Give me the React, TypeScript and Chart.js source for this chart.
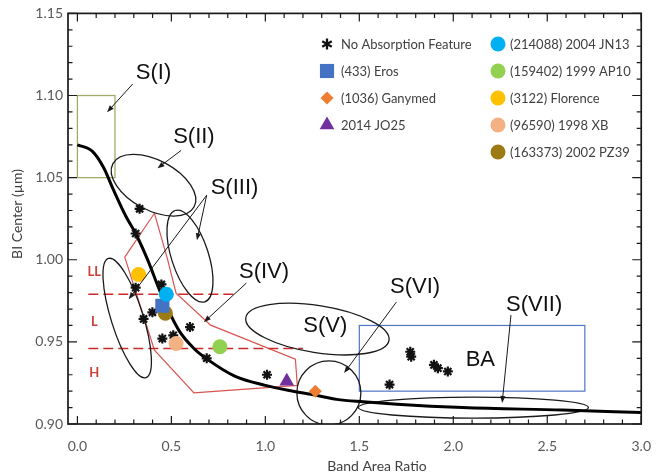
import { useEffect, useRef } from 'react';
import { Chart, registerables } from 'chart.js';

Chart.register(...registerables);

// Axis ticks
const xTicks = [0.0, 0.5, 1.0, 1.5, 2.0, 2.5, 3.0];
const yTicks = [0.9, 0.95, 1.0, 1.05, 1.1, 1.15];

// S-type boundary curve (Band Area Ratio vs BI Center)
const curveBAR = [0.0, 0.08, 0.14, 0.19, 0.26, 0.31, 0.37, 0.45, 0.54, 0.62, 0.69, 0.84, 1.0, 1.12, 1.27, 1.38, 1.52, 1.7, 2.05, 2.58, 3.0];
const curveBIC = [1.07, 1.066, 1.056, 1.043, 1.026, 1.016, 1.001, 0.978, 0.957, 0.946, 0.9395, 0.929, 0.9235, 0.9205, 0.9175, 0.915, 0.9135, 0.912, 0.91, 0.9085, 0.907];

// Asteroids without an absorption feature
const noFeatureBAR = [0.331, 0.31, 0.31, 0.447, 0.352, 0.399, 0.452, 0.51, 0.599, 0.688, 1.009, 1.771, 1.776, 1.897, 1.918, 1.971, 1.661];
const noFeatureBIC = [1.031, 1.016, 0.983, 0.985, 0.964, 0.968, 0.952, 0.954, 0.959, 0.94, 0.93, 0.944, 0.941, 0.936, 0.934, 0.932, 0.924];

// Named asteroids
const asteroidNames = ['(433) Eros', '(1036) Ganymed', '2014 JO25', '(214088) 2004 JN13', '(159402) 1999 AP10', '(3122) Florence', '(96590) 1998 XB', '(163373) 2002 PZ39'];
const asteroidBAR = [0.452, 1.266, 1.114, 0.473, 0.758, 0.326, 0.525, 0.468];
const asteroidBIC = [0.972, 0.92, 0.926, 0.979, 0.947, 0.991, 0.949, 0.9675];

const asteroidColors = ['#4472C4', '#ED7D31', '#7030A0', '#00B0F0', '#92D050', '#FFC000', '#F4B183', '#9C7A14'];
const asteroidShapes = ['rect', 'rectRot', 'triangle', 'circle', 'circle', 'circle', 'circle', 'circle'];
const asteroidRadius = [10, 6.5, 8.5, 7.5, 7.5, 7.5, 7.5, 7.5];
const drawOrder = [2, 1, 1, 1, 1, 1, 1, 3];

// Region outlines (data coordinates; radii in px, rotation in degrees)
const regionEllipses = [
  { cx: 0.405, cy: 1.0454, a: 46, b: 25, rot: 28 },
  { cx: 0.599, cy: 1.0022, a: 48, b: 18.5, rot: 72 },
  { cx: 0.265, cy: 0.9645, a: 62.5, b: 16, rot: 72.5 },
  { cx: 1.277, cy: 0.9578, a: 72.5, b: 23.5, rot: 9 },
  { cx: 1.338, cy: 0.9189, a: 32, b: 32, rot: 0 },
  { cx: 2.107, cy: 0.91, a: 115, b: 10.5, rot: 0 },
];
const sIVPolygonBAR = [0.252, 0.41, 0.478, 0.525, 0.709, 1.16, 1.17, 0.62, 0.41];
const sIVPolygonBIC = [1.0016, 1.0283, 1.001, 0.9797, 0.9602, 0.9395, 0.9235, 0.9189, 0.945];

const regionLabels = [
  { t: 'S(I)', x: 0.405, y: 1.114 },
  { t: 'S(II)', x: 0.62, y: 1.0746 },
  { t: 'S(III)', x: 0.836, y: 1.0436 },
  { t: 'S(IV)', x: 0.993, y: 0.9925 },
  { t: 'S(V)', x: 1.319, y: 0.9596 },
  { t: 'S(VI)', x: 1.797, y: 0.9833 },
  { t: 'S(VII)', x: 2.43, y: 0.9725 },
  { t: 'BA', x: 2.144, y: 0.939 },
];
const regionArrows = [
  [0.294, 1.107, 0.158, 1.0898],
  [0.552, 1.0666, 0.426, 1.0557],
  [0.688, 1.0393, 0.636, 1.0119],
  [0.688, 1.0393, 0.273, 0.976],
  [0.899, 0.9858, 0.673, 0.962],
  [1.697, 0.9742, 1.419, 0.931],
  [2.307, 0.9663, 2.26, 0.9128],
];
const bandLabels = [
  { t: 'LL', x: 0.09, y: 0.9925 },
  { t: 'L', x: 0.09, y: 0.962 },
  { t: 'H', x: 0.09, y: 0.931 },
];

const UI_FONT = 'Lato, "Open Sans", sans-serif';
const LABEL_FONT = '"Liberation Sans", Arial, sans-serif';

function drawMarker(ctx: CanvasRenderingContext2D, shape: string, x: number, y: number, r: number, color: string) {
  ctx.save();
  ctx.fillStyle = color;
  ctx.strokeStyle = color;
  ctx.beginPath();
  if (shape === 'circle') {
    ctx.arc(x, y, r, 0, Math.PI * 2);
    ctx.fill();
  } else if (shape === 'rect') {
    const s = Math.SQRT1_2 * r;
    ctx.fillRect(x - s, y - s, 2 * s, 2 * s);
  } else if (shape === 'rectRot') {
    ctx.moveTo(x, y - r);
    ctx.lineTo(x + r, y);
    ctx.lineTo(x, y + r);
    ctx.lineTo(x - r, y);
    ctx.closePath();
    ctx.fill();
  } else if (shape === 'triangle') {
    for (let k = 0; k < 3; k++) {
      const ang = (k * 2 * Math.PI) / 3;
      const px = x + Math.sin(ang) * r;
      const py = y - Math.cos(ang) * r;
      if (k === 0) ctx.moveTo(px, py);
      else ctx.lineTo(px, py);
    }
    ctx.closePath();
    ctx.fill();
  } else if (shape === 'star') {
    ctx.lineWidth = 2.3;
    for (let k = 0; k < 3; k++) {
      const ang = Math.PI / 2 + (k * Math.PI) / 3;
      ctx.moveTo(x - Math.cos(ang) * r, y - Math.sin(ang) * r);
      ctx.lineTo(x + Math.cos(ang) * r, y + Math.sin(ang) * r);
    }
    ctx.stroke();
  }
  ctx.restore();
}

function drawArrow(ctx: CanvasRenderingContext2D, x1: number, y1: number, x2: number, y2: number) {
  const ang = Math.atan2(y2 - y1, x2 - x1);
  const len = 7;
  const half = 2.6;
  ctx.beginPath();
  ctx.moveTo(x1, y1);
  ctx.lineTo(x2 - Math.cos(ang) * len * 0.8, y2 - Math.sin(ang) * len * 0.8);
  ctx.stroke();
  ctx.beginPath();
  ctx.moveTo(x2, y2);
  ctx.lineTo(x2 - Math.cos(ang) * len - Math.sin(ang) * half, y2 - Math.sin(ang) * len + Math.cos(ang) * half);
  ctx.lineTo(x2 - Math.cos(ang) * len + Math.sin(ang) * half, y2 - Math.sin(ang) * len - Math.cos(ang) * half);
  ctx.closePath();
  ctx.fill();
}

const figurePlugin = {
  id: 'figureRegions',
  beforeDatasetsDraw(chart: any) {
    const { ctx, chartArea, scales } = chart;
    const X = (v: number) => scales.x.getPixelForValue(v);
    const Y = (v: number) => scales.y.getPixelForValue(v);
    ctx.save();
    ctx.beginPath();
    ctx.rect(chartArea.left, chartArea.top, chartArea.right - chartArea.left, chartArea.bottom - chartArea.top);
    ctx.clip();

    // S(I) box
    ctx.strokeStyle = '#A3AB6B';
    ctx.lineWidth = 1.3;
    ctx.strokeRect(X(0), Y(1.1), X(0.2) - X(0), Y(1.05) - Y(1.1));

    // BA box
    ctx.strokeStyle = '#4F74C8';
    ctx.lineWidth = 1.2;
    ctx.strokeRect(X(1.5), Y(0.96), X(2.7) - X(1.5), Y(0.92) - Y(0.96));

    // S(IV) polygon
    ctx.strokeStyle = '#D9534F';
    ctx.lineWidth = 1.2;
    ctx.beginPath();
    sIVPolygonBAR.forEach((v, i) => {
      if (i === 0) ctx.moveTo(X(v), Y(sIVPolygonBIC[i]));
      else ctx.lineTo(X(v), Y(sIVPolygonBIC[i]));
    });
    ctx.closePath();
    ctx.stroke();

    // Band dividers
    ctx.strokeStyle = '#CC2B2B';
    ctx.lineWidth = 1.6;
    ctx.setLineDash([10, 5]);
    ctx.beginPath();
    ctx.moveTo(X(0.058), Y(0.979));
    ctx.lineTo(X(0.84), Y(0.979));
    ctx.moveTo(X(0.058), Y(0.946));
    ctx.lineTo(X(1.2), Y(0.946));
    ctx.stroke();
    ctx.setLineDash([]);

    // Ellipses
    ctx.strokeStyle = '#1a1a1a';
    ctx.lineWidth = 1.3;
    regionEllipses.forEach((e) => {
      ctx.beginPath();
      ctx.ellipse(X(e.cx), Y(e.cy), e.a, e.b, (e.rot * Math.PI) / 180, 0, Math.PI * 2);
      ctx.stroke();
    });
    ctx.restore();
  },
  afterDraw(chart: any) {
    const { ctx, chartArea, scales } = chart;
    const X = (v: number) => scales.x.getPixelForValue(v);
    const Y = (v: number) => scales.y.getPixelForValue(v);
    const { left, right, top, bottom } = chartArea;
    ctx.save();

    // Arrows
    ctx.strokeStyle = '#1a1a1a';
    ctx.fillStyle = '#1a1a1a';
    ctx.lineWidth = 1;
    regionArrows.forEach((a) => drawArrow(ctx, X(a[0]), Y(a[1]), X(a[2]), Y(a[3])));

    // Region labels
    ctx.fillStyle = '#111';
    ctx.font = `22px ${LABEL_FONT}`;
    ctx.textAlign = 'center';
    ctx.textBaseline = 'middle';
    regionLabels.forEach((l) => ctx.fillText(l.t, X(l.x), Y(l.y)));

    ctx.fillStyle = '#C9413A';
    ctx.font = `bold 13px ${UI_FONT}`;
    bandLabels.forEach((l) => ctx.fillText(l.t, X(l.x), Y(l.y)));

    // Frame and inward ticks
    ctx.strokeStyle = '#1a1a1a';
    ctx.lineWidth = 1.7;
    ctx.strokeRect(left, top, right - left, bottom - top);
    ctx.lineWidth = 1.2;
    ctx.beginPath();
    for (let i = 0; i <= 30; i++) {
      const px = X(i / 10);
      const len = i % 5 === 0 ? 8 : 4.5;
      ctx.moveTo(px, bottom);
      ctx.lineTo(px, bottom - len);
      ctx.moveTo(px, top);
      ctx.lineTo(px, top + len);
    }
    for (let i = 90; i <= 115; i++) {
      const py = Y(i / 100);
      const len = i % 5 === 0 ? 9 : 4.5;
      ctx.moveTo(left, py);
      ctx.lineTo(left + len, py);
      ctx.moveTo(right, py);
      ctx.lineTo(right - len, py);
    }
    ctx.stroke();

    // Axis titles
    ctx.fillStyle = '#404040';
    ctx.font = `14px ${UI_FONT}`;
    ctx.textAlign = 'center';
    ctx.textBaseline = 'middle';
    ctx.fillText('Band Area Ratio', 377, 466);
    ctx.save();
    ctx.translate(17, 214);
    ctx.rotate(-Math.PI / 2);
    ctx.fillText('BI Center (µm)', 0, 0);
    ctx.restore();

    // Legend
    const items = chart.data.datasets.filter((d: any) => d.legendShape);
    ctx.font = `13px ${UI_FONT}`;
    ctx.textAlign = 'left';
    items.forEach((d: any, i: number) => {
      const col = i < 4 ? 0 : 1;
      const row = i < 4 ? i : i - 4;
      const mx = col === 0 ? 327 : 498;
      const tx = col === 0 ? 341 : 510;
      const my = 44 + row * 27;
      const isStar = d.legendShape === 'star';
      drawMarker(ctx, d.legendShape, mx, my, isStar ? 5.5 : d.pointRadius, isStar ? '#111' : d.backgroundColor);
      ctx.fillStyle = '#404040';
      ctx.fillText(d.label, tx, my + 1);
    });
    ctx.restore();
  },
};

export default function App() {
  const ref = useRef<HTMLCanvasElement>(null);

  useEffect(() => {
    const canvas = ref.current;
    if (!canvas) return;

    const datasets: any[] = [
      {
        label: 'boundary',
        data: curveBAR.map((v, i) => ({ x: v, y: curveBIC[i] })),
        showLine: true,
        borderColor: '#000',
        borderWidth: 3,
        pointRadius: 0,
        cubicInterpolationMode: 'monotone',
        fill: false,
        order: 10,
      },
      {
        label: 'No Absorption Feature',
        legendShape: 'star',
        data: noFeatureBAR.map((v, i) => ({ x: v, y: noFeatureBIC[i] })),
        pointStyle: 'star',
        pointRadius: 5,
        borderColor: '#111',
        backgroundColor: '#111',
        borderWidth: 2.2,
        order: 5,
      },
      ...asteroidNames.map((name, i) => ({
        label: name,
        legendShape: asteroidShapes[i],
        data: [{ x: asteroidBAR[i], y: asteroidBIC[i] }],
        pointStyle: asteroidShapes[i],
        pointRadius: asteroidRadius[i],
        backgroundColor: asteroidColors[i],
        borderColor: asteroidColors[i],
        borderWidth: 0,
        order: drawOrder[i],
      })),
    ];

    const chart = new Chart(canvas, {
      type: 'scatter',
      data: { datasets },
      options: {
        responsive: false,
        animation: false,
        layout: { padding: { left: 0, right: 17, top: 13, bottom: 0 } },
        plugins: { legend: { display: false }, tooltip: { enabled: false } },
        scales: {
          x: {
            type: 'linear',
            min: -0.05,
            max: 3.0,
            grid: { display: false, drawTicks: false },
            border: { display: false },
            afterBuildTicks: (s: any) => {
              s.ticks = xTicks.map((value) => ({ value }));
            },
            afterFit: (s: any) => {
              s.height = 50;
            },
            ticks: {
              padding: 14,
              color: '#595959',
              font: { family: UI_FONT, size: 14 },
              callback: (v: any) => Number(v).toFixed(1),
            },
          },
          y: {
            type: 'linear',
            min: 0.9,
            max: 1.15,
            grid: { display: false, drawTicks: false },
            border: { display: false },
            afterBuildTicks: (s: any) => {
              s.ticks = yTicks.map((value) => ({ value }));
            },
            afterFit: (s: any) => {
              s.width = 68;
            },
            ticks: {
              padding: 5,
              color: '#595959',
              font: { family: UI_FONT, size: 14 },
              callback: (v: any) => Number(v).toFixed(2),
            },
          },
        },
      },
      plugins: [figurePlugin],
    } as any);

    return () => chart.destroy();
  }, []);

  return (
    <div style={{ position: 'fixed', left: 0, top: 0, width: 665, height: 474, background: '#fff' }}>
      <canvas ref={ref} width={665} height={474} style={{ display: 'block' }} />
    </div>
  );
}
